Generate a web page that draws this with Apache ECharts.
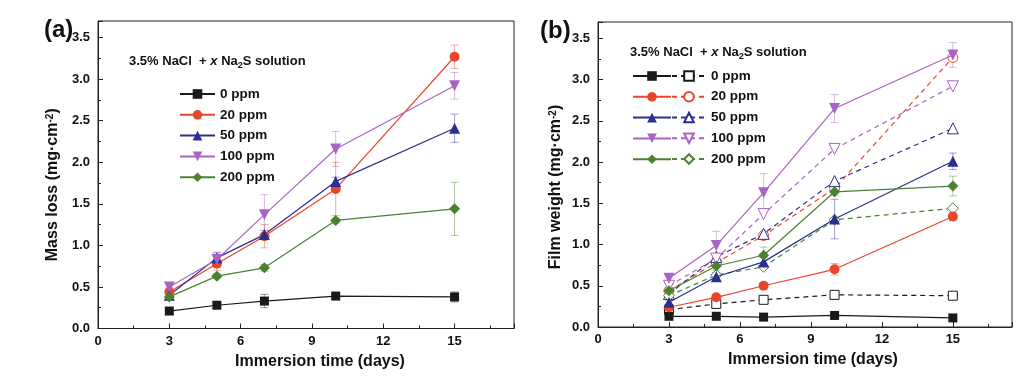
<!DOCTYPE html>
<html><head><meta charset="utf-8">
<script src="https://cdn.jsdelivr.net/npm/echarts@6/dist/echarts.min.js"></script>
<style>html,body{margin:0;padding:0;background:#fff}#c{width:1036px;height:390px}</style>
</head><body><div id="c"></div>
<script>
// ---- data ----
const days = [3, 5, 7, 10, 15];
const seriesNames = ['0 ppm', '20 ppm', '50 ppm', '100 ppm', '200 ppm'];
const xTickStep = 3;
const yTickStep = 0.5;

// (a) mass loss (mg/cm2) — also the open/dashed series in (b)
const mass0 = [0.21, 0.28, 0.33, 0.39, 0.38];
const mass20 = [0.44, 0.78, 1.11, 1.68, 3.27];
const mass50 = [0.40, 0.85, 1.13, 1.77, 2.41];
const mass100 = [0.50, 0.83, 1.37, 2.16, 2.92];
const mass200 = [0.38, 0.63, 0.73, 1.30, 1.44];
const massErr0 = [0.03, 0.02, 0.08, 0.02, 0.06];
const massErr20 = [0.05, 0.08, 0.14, 0.32, 0.14];
const massErr50 = [0.04, 0.06, 0.05, 0.05, 0.17];
const massErr100 = [0.05, 0.09, 0.24, 0.21, 0.16];
const massErr200 = [0.04, 0.03, 0.04, 0.03, 0.32];

// (b) film weight (mg/cm2) — solid series
const film0 = [0.13, 0.13, 0.12, 0.14, 0.11];
const film20 = [0.24, 0.36, 0.50, 0.70, 1.34];
const film50 = [0.30, 0.61, 0.79, 1.31, 2.01];
const film100 = [0.59, 0.99, 1.63, 2.65, 3.30];
const film200 = [0.44, 0.74, 0.87, 1.64, 1.71];
const filmErr0 = [0.02, 0.02, 0.02, 0.02, 0.02];
const filmErr20 = [0.03, 0.03, 0.04, 0.07, 0.05];
const filmErr50 = [0.03, 0.05, 0.05, 0.24, 0.10];
const filmErr100 = [0.04, 0.17, 0.23, 0.17, 0.15];
const filmErr200 = [0.03, 0.05, 0.10, 0.05, 0.12];

// ---- styling ----
const FONT = '"Liberation Sans", Arial, sans-serif';
const colors = ['#1a1a1a', '#e8462b', '#2b2f8f', '#a864c4', '#4a8230'];
const symbols = ['rect', 'circle', 'triangle', 'triangle', 'diamond'];
const rotates = [0, 0, 0, 180, 0];
const sizes = [9, 10, 11, 11, 11];

const massVals = [mass0, mass20, mass50, mass100, mass200];
const massErrs = [massErr0, massErr20, massErr50, massErr100, massErr200];
const filmVals = [film0, film20, film50, film100, film200];
const filmErrs = [filmErr0, filmErr20, filmErr50, filmErr100, filmErr200];

function pts(vals) { return days.map((d, i) => [d, vals[i]]); }

function lineSeries(name, gi, vals, k, open, dashed) {
  const col = colors[k];
  return {
    type: 'line', name: name, xAxisIndex: gi, yAxisIndex: gi,
    data: pts(vals), z: open ? 3 : 4,
    symbol: symbols[k], symbolSize: sizes[k], symbolRotate: rotates[k],
    showAllSymbol: true,
    itemStyle: open ? { color: '#fff', borderColor: col, borderWidth: 1 } : { color: col, borderWidth: 0 },
    lineStyle: { color: col, width: 1.2, type: dashed ? [5, 4] : 'solid' },
    emphasis: { disabled: true }, animation: false
  };
}

function errSeries(gi, vals, errs, col) {
  return {
    type: 'custom', xAxisIndex: gi, yAxisIndex: gi, z: 1, silent: true, animation: false,
    data: days.map((d, i) => [d, vals[i], errs[i]]),
    encode: { x: 0, y: 1 },
    renderItem(params, api) {
      const x = api.value(0), y = api.value(1), e = api.value(2);
      const t = api.coord([x, y + e]), b = api.coord([x, y - e]);
      const w = 4;
      const st = { stroke: col, lineWidth: 1, opacity: 0.45 };
      return { type: 'group', children: [
        { type: 'line', shape: { x1: t[0], y1: t[1], x2: b[0], y2: b[1] }, style: st },
        { type: 'line', shape: { x1: t[0] - w, y1: t[1], x2: t[0] + w, y2: t[1] }, style: st },
        { type: 'line', shape: { x1: b[0] - w, y1: b[1], x2: b[0] + w, y2: b[1] }, style: st }
      ] };
    }
  };
}

const series = [];
seriesNames.forEach((n, k) => {
  series.push(errSeries(0, massVals[k], massErrs[k], colors[k]));
  series.push(lineSeries(n, 0, massVals[k], k, false, false));
});
seriesNames.forEach((n, k) => {
  series.push(lineSeries('b-ml-' + n, 1, massVals[k], k, true, true));
});
seriesNames.forEach((n, k) => {
  series.push(errSeries(1, filmVals[k], filmErrs[k], colors[k]));
  series.push(lineSeries('b-fw-' + n, 1, filmVals[k], k, false, false));
});

const axColor = '#222';
function xAx(gi, padLeft) {
  return {
    type: 'value', gridIndex: gi, min: 0, max: 17.5, interval: xTickStep,
    name: 'Immersion time (days)', nameLocation: 'middle', nameGap: 25,
    nameTextStyle: { fontFamily: FONT, fontWeight: 'bold', fontSize: 16, color: '#111', padding: [0, 0, 0, padLeft] },
    axisLine: { show: true, onZero: false, lineStyle: { color: axColor, width: 1 } },
    axisTick: { show: true, inside: true, length: 5, lineStyle: { color: axColor } },
    minorTick: { show: true, splitNumber: 2, length: 3, lineStyle: { color: axColor } },
    axisLabel: { fontFamily: FONT, fontWeight: 'bold', fontSize: 13, color: '#111', margin: 6, showMaxLabel: false },
    splitLine: { show: false }, minorSplitLine: { show: false }
  };
}
function yAx(gi, name, gap, padRight) {
  return {
    type: 'value', gridIndex: gi, min: 0, max: 3.7, interval: yTickStep,
    name: name, nameLocation: 'middle', nameGap: gap,
    nameTextStyle: { fontFamily: FONT, fontWeight: 'bold', fontSize: 16, color: '#111', padding: [0, padRight, 0, 0],
      rich: { sup: { fontFamily: FONT, fontWeight: 'bold', fontSize: 10, color: '#111', verticalAlign: 'top' } } },
    axisLine: { show: true, onZero: false, lineStyle: { color: axColor, width: 1 } },
    axisTick: { show: true, inside: true, length: 5, lineStyle: { color: axColor } },
    minorTick: { show: true, splitNumber: 2, length: 3, lineStyle: { color: axColor } },
    axisLabel: { fontFamily: FONT, fontWeight: 'bold', fontSize: 13, color: '#111', margin: 8, showMaxLabel: false,
      formatter: v => v.toFixed(1) },
    splitLine: { show: false }, minorSplitLine: { show: false }
  };
}

const legText = { fontFamily: FONT, fontWeight: 'bold', fontSize: 13.5, color: '#111' };
const annRich = {
  b: { fontFamily: FONT, fontWeight: 'bold', fontSize: 13, color: '#111', lineHeight: 18 },
  i: { fontFamily: FONT, fontWeight: 'bold', fontStyle: 'italic', fontSize: 13, color: '#111', lineHeight: 18 },
  s: { fontFamily: FONT, fontWeight: 'bold', fontSize: 9, color: '#111', verticalAlign: 'bottom' }
};
const annText = '{b|3.5% NaCl  + }{i|x}{b| Na}{s|2}{b|S solution}';

const option = {
  backgroundColor: '#fff',
  animation: false,
  title: [
    { text: '(a)', left: 44, top: 18, padding: 0, textStyle: { fontFamily: FONT, fontWeight: 'bold', fontSize: 24, color: '#111' } },
    { text: '(b)', left: 540, top: 19, padding: 0, textStyle: { fontFamily: FONT, fontWeight: 'bold', fontSize: 24, color: '#111' } },
    { text: annText, left: 129, top: 52, padding: 0, textStyle: { rich: annRich } },
    { text: annText, left: 630, top: 43, padding: 0, textStyle: { rich: annRich } }
  ],
  grid: [
    { left: 98, right: 522, top: 21, bottom: 61.5, show: true, borderColor: axColor, borderWidth: 1, backgroundColor: 'transparent' },
    { left: 598, right: 24, top: 22, bottom: 63, show: true, borderColor: axColor, borderWidth: 1, backgroundColor: 'transparent' }
  ],
  xAxis: [xAx(0, 28), xAx(1, 16)],
  yAxis: [
    yAx(0, 'Mass loss (mg·cm{sup|-2})', 37, 20),
    yAx(1, 'Film weight (mg·cm{sup|-2})', 34, 25)
  ],
  legend: [
    { data: seriesNames, orient: 'vertical', left: 179, top: 87, itemWidth: 35, itemHeight: 12, itemGap: 6.8,
      textStyle: legText, selectedMode: false, padding: 0 },
    { data: seriesNames.map(n => 'b-fw-' + n), orient: 'vertical', left: 632, top: 70, itemWidth: 38, itemHeight: 12, itemGap: 10,
      formatter: () => '', textStyle: legText, selectedMode: false, padding: 0 },
    { data: seriesNames.map(n => 'b-ml-' + n), orient: 'vertical', left: 671, top: 69, itemWidth: 34, itemHeight: 12, itemGap: 6.75,
      formatter: n => n.replace('b-ml-', ''), textStyle: legText, selectedMode: false, padding: 0 }
  ],
  series: series
};

const chart = echarts.init(document.getElementById('c'), null, { renderer: 'canvas' });
chart.setOption(option);
</script>
</body></html>
